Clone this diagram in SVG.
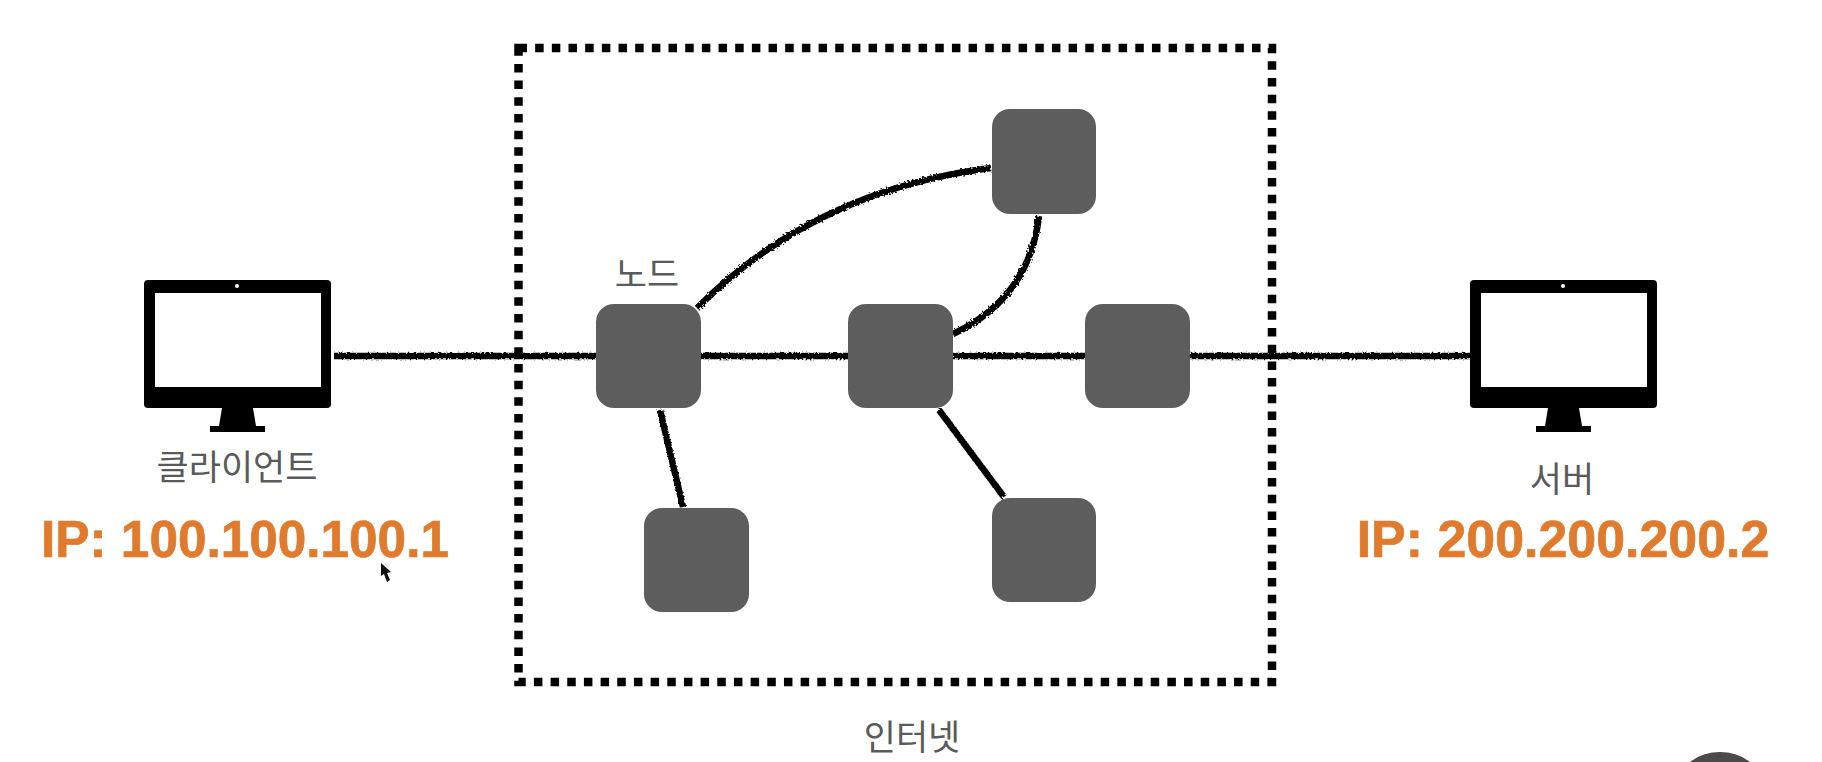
<svg xmlns="http://www.w3.org/2000/svg" width="1822" height="762" viewBox="0 0 1822 762">
<style>
.node{fill:#5d5d5d}
.wire{fill:none;stroke:#000;stroke-width:6.5;filter:url(#rough)}
.lab{font-family:"Liberation Sans","Noto Sans CJK KR",sans-serif;font-size:35px;fill:#5a5a5a;text-anchor:middle}
.ip{font-family:"Liberation Sans",Arial,sans-serif;font-size:51.3px;font-weight:700;fill:#e07a2d;stroke:#e07a2d;stroke-width:.7;text-anchor:middle}
</style>
<defs>
<filter id="rough" x="0" y="0" width="1822" height="762" filterUnits="userSpaceOnUse" primitiveUnits="userSpaceOnUse"><feTurbulence type="fractalNoise" baseFrequency="0.5" numOctaves="2" seed="4"/><feDisplacementMap in="SourceGraphic" scale="4"/></filter>
<g id="monitor">
<path fill-rule="evenodd" d="M148 280H327a4 4 0 0 1 4 4V404a4 4 0 0 1-4 4H148a4 4 0 0 1-4-4V284a4 4 0 0 1 4-4ZM155 293V387H321V293Z"/>
<path d="M222 408H253L256 426H265V432H210V426H219Z"/>
<circle cx="237" cy="286" r="2" fill="#fff"/>
</g>
</defs>
<rect width="1822" height="762" fill="#fff"/>
<g id="internet-boundary"><rect x="518.5" y="48" width="753.5" height="634" fill="none" stroke="#000" stroke-width="8.5" stroke-dasharray="8.5 8.17"/></g>
<g id="connectors">
<path class="wire" d="M334 356H596"/>
<path class="wire" d="M701 356H848"/>
<path class="wire" d="M953 356H1085"/>
<path class="wire" d="M1190 356H1470"/>
<path class="wire" d="M697 308C780 225 880 182 991 168"/>
<path class="wire" d="M1039 216C1032 275 1000 312 953 334"/>
<path class="wire" d="M660 410L683 507"/>
<path class="wire" d="M939 410L1004 497"/>
</g>
<g id="client"><use href="#monitor"/><text class="lab" x="237" y="480">클라이언트</text><text class="ip" x="245" y="557">IP: 100.100.100.1</text></g>
<g id="server"><use href="#monitor" x="1326"/><text class="lab" x="1562" y="492">서버</text><text class="ip" x="1563" y="557" style="font-size:51.9px">IP: 200.200.200.2</text></g>
<g id="node-1"><rect class="node" x="596" y="304" width="105" height="104" rx="18"/><text class="lab" x="647" y="287">노드</text></g>
<g id="node-2"><rect class="node" x="848" y="304" width="105" height="104" rx="18"/></g>
<g id="node-3"><rect class="node" x="1085" y="304" width="105" height="104" rx="18"/></g>
<g id="node-4"><rect class="node" x="992" y="109" width="104" height="105" rx="18"/></g>
<g id="node-5"><rect class="node" x="644" y="508" width="105" height="104" rx="18"/></g>
<g id="node-6"><rect class="node" x="992" y="498" width="104" height="104" rx="18"/></g>
<text class="lab" x="912" y="750">인터넷</text>
<path id="cursor" d="M381 563L381 576L384 574L387 582L390 580L387 573L391 572Z" fill="#111"/>
<ellipse id="presenter" cx="1720" cy="782" rx="40" ry="30" fill="#4a4a4a"/>
</svg>
